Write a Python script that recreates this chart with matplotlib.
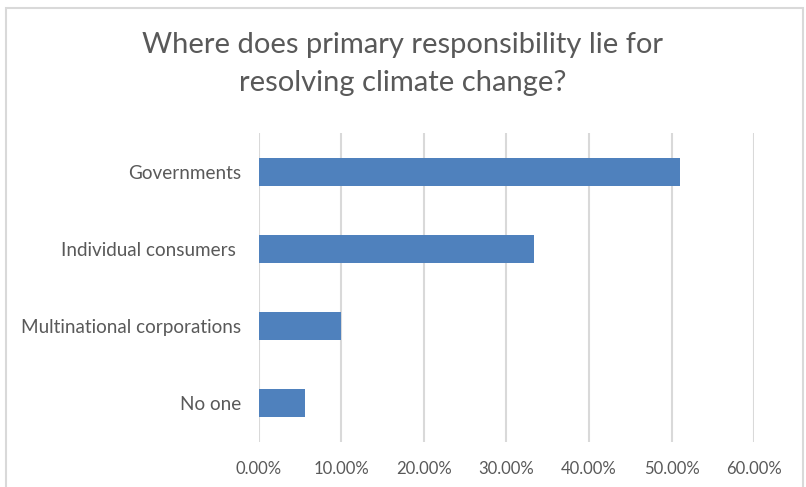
import numpy as np
import matplotlib.pyplot as plt
from matplotlib.patches import Rectangle
from matplotlib.ticker import FuncFormatter

plt.rcParams['font.family'] = ['Lato', 'DejaVu Sans']

categories = ["Governments", "Individual consumers ", "Multinational corporations", "No one"]
shares = [0.51, 0.333, 0.10, 0.056]
ticks = [0.0, 0.1, 0.2, 0.3, 0.4, 0.5, 0.6]
title = "Where does primary responsibility lie for\nresolving climate change?"

bar_color = "#4F81BD"
grid_color = "#D9D9D9"
text_color = "#595959"

fig = plt.figure(figsize=(8.06, 4.87), dpi=100)
ax = fig.add_axes([0.3213, 0.0924, 0.6142, 0.6345])

# chart area frame
fig.patches.append(Rectangle((5.5 / 806, -0.05), 797.5 / 806, 1 - 7.5 / 487 + 0.05,
                             transform=fig.transFigure, fill=False,
                             edgecolor=grid_color, linewidth=1.5))

y = np.arange(len(categories))
ax.barh(y, shares, height=0.36, color=bar_color, zorder=3)

ax.set_xlim(0, 0.6)
ax.set_ylim(len(categories) - 0.5, -0.5)
ax.set_xticks(ticks)
ax.xaxis.set_major_formatter(FuncFormatter(lambda v, _: f"{v * 100:.2f}%"))
ax.set_yticks(y)
ax.set_yticklabels(categories)

ax.grid(axis="x", color=grid_color, linewidth=1.5, zorder=0)
ax.grid(axis="y", visible=False)
for side in ["top", "right", "bottom", "left"]:
    ax.spines[side].set_visible(False)
ax.tick_params(axis="both", length=0, colors=text_color)
ax.tick_params(axis="x", pad=14, labelsize=12)
ax.tick_params(axis="y", pad=13, labelsize=13.6)

fig.text(0.5, 1 - 64 / 487, title, ha="center", va="center",
         fontsize=21, color=text_color, linespacing=1.55)

fig.savefig("out.png", dpi=100)
